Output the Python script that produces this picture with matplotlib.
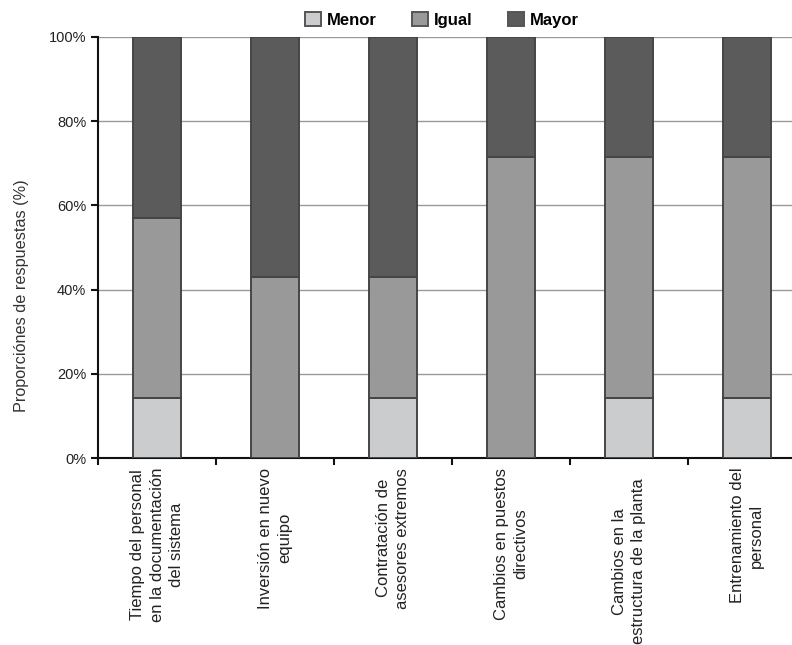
import matplotlib
matplotlib.use("Agg")
import matplotlib.pyplot as plt
import matplotlib.transforms as mtransforms
import numpy as np

categories = [
    "Tiempo del personal\nen la documentación\ndel sistema",
    "Inversión en nuevo\nequipo",
    "Contratación de\nasesores extremos",
    "Cambios en puestos\ndirectivos",
    "Cambios en la\nestructura de la planta",
    "Entrenamiento del\npersonal",
]
menor = [14.3, 0.0, 14.3, 0.0, 14.3, 14.3]
igual = [42.8, 42.9, 28.6, 71.4, 57.1, 57.1]
mayor = [42.9, 57.1, 57.1, 28.6, 28.6, 28.6]
series_names = ["Menor", "Igual", "Mayor"]
colors = ["#cbcccd", "#999999", "#5b5b5b"]
yticks = [0, 20, 40, 60, 80, 100]

plt.rcParams['font.family'] = ['Liberation Sans', 'DejaVu Sans']

fig = plt.figure(figsize=(7.92, 6.45), dpi=100)
ax = fig.add_axes([98/792, 1-458/645, 708/792, (458-37)/645])

x = np.arange(len(categories))
bottoms = np.zeros(len(categories))
handles = []
for vals, name, c in zip([menor, igual, mayor], series_names, colors):
    b = ax.bar(x, vals, width=0.41, bottom=bottoms, color=c, edgecolor="#454545",
               linewidth=1.4, label=name, zorder=3)
    handles.append(b)
    bottoms = bottoms + np.array(vals)

ax.set_xlim(-0.5, len(categories) - 0.5)
ax.set_ylim(0, 100)
ax.set_yticks(yticks)
ax.set_yticklabels([f"{t}%" for t in yticks], fontsize=10.5, color="#222222")
ax.yaxis.grid(True, color="#999999", linewidth=1.0, zorder=0)
ax.set_axisbelow(True)

ax.tick_params(axis="x", which="minor", length=0, pad=7)
ax.tick_params(axis="x", which="major", length=5, width=1.5, direction="out", color="#111111")
ax.tick_params(axis="y", length=5, width=1.5, direction="out", color="#111111")

ax.set_xticks(np.arange(len(categories) + 1) - 0.5)
ax.set_xticklabels([])
ax.set_xticks(x, minor=True)
labels = ax.set_xticklabels(categories, minor=True, rotation=90, ha="center", va="top",
                            multialignment="center", fontsize=12, color="#222222",
                            linespacing=1.35)
# the long label of the fifth category sits a little lower in the reference
labels[4].set_transform(labels[4].get_transform() +
                        mtransforms.ScaledTranslation(0, -11/100, fig.dpi_scale_trans))

for s in ["top", "right"]:
    ax.spines[s].set_visible(False)
for s in ["left", "bottom"]:
    ax.spines[s].set_linewidth(1.5)
    ax.spines[s].set_color("#111111")

ax.set_ylabel("Proporciónes de respuestas (%)", fontsize=11.7, color="#333333")
ax.yaxis.set_label_coords((29 - 98) / 708, (458 - 296) / 421)

leg = fig.legend(handles=handles, labels=series_names, loc="center",
                 bbox_to_anchor=(442/792, 1-20/645),
                 ncol=3, frameon=False, prop={"weight": "bold", "size": 12},
                 handlelength=0.95, handleheight=0.9, handletextpad=0.35, columnspacing=2.15)
for h in leg.legend_handles:
    h.set_edgecolor("#555555")

fig.savefig("out.png", dpi=100)
